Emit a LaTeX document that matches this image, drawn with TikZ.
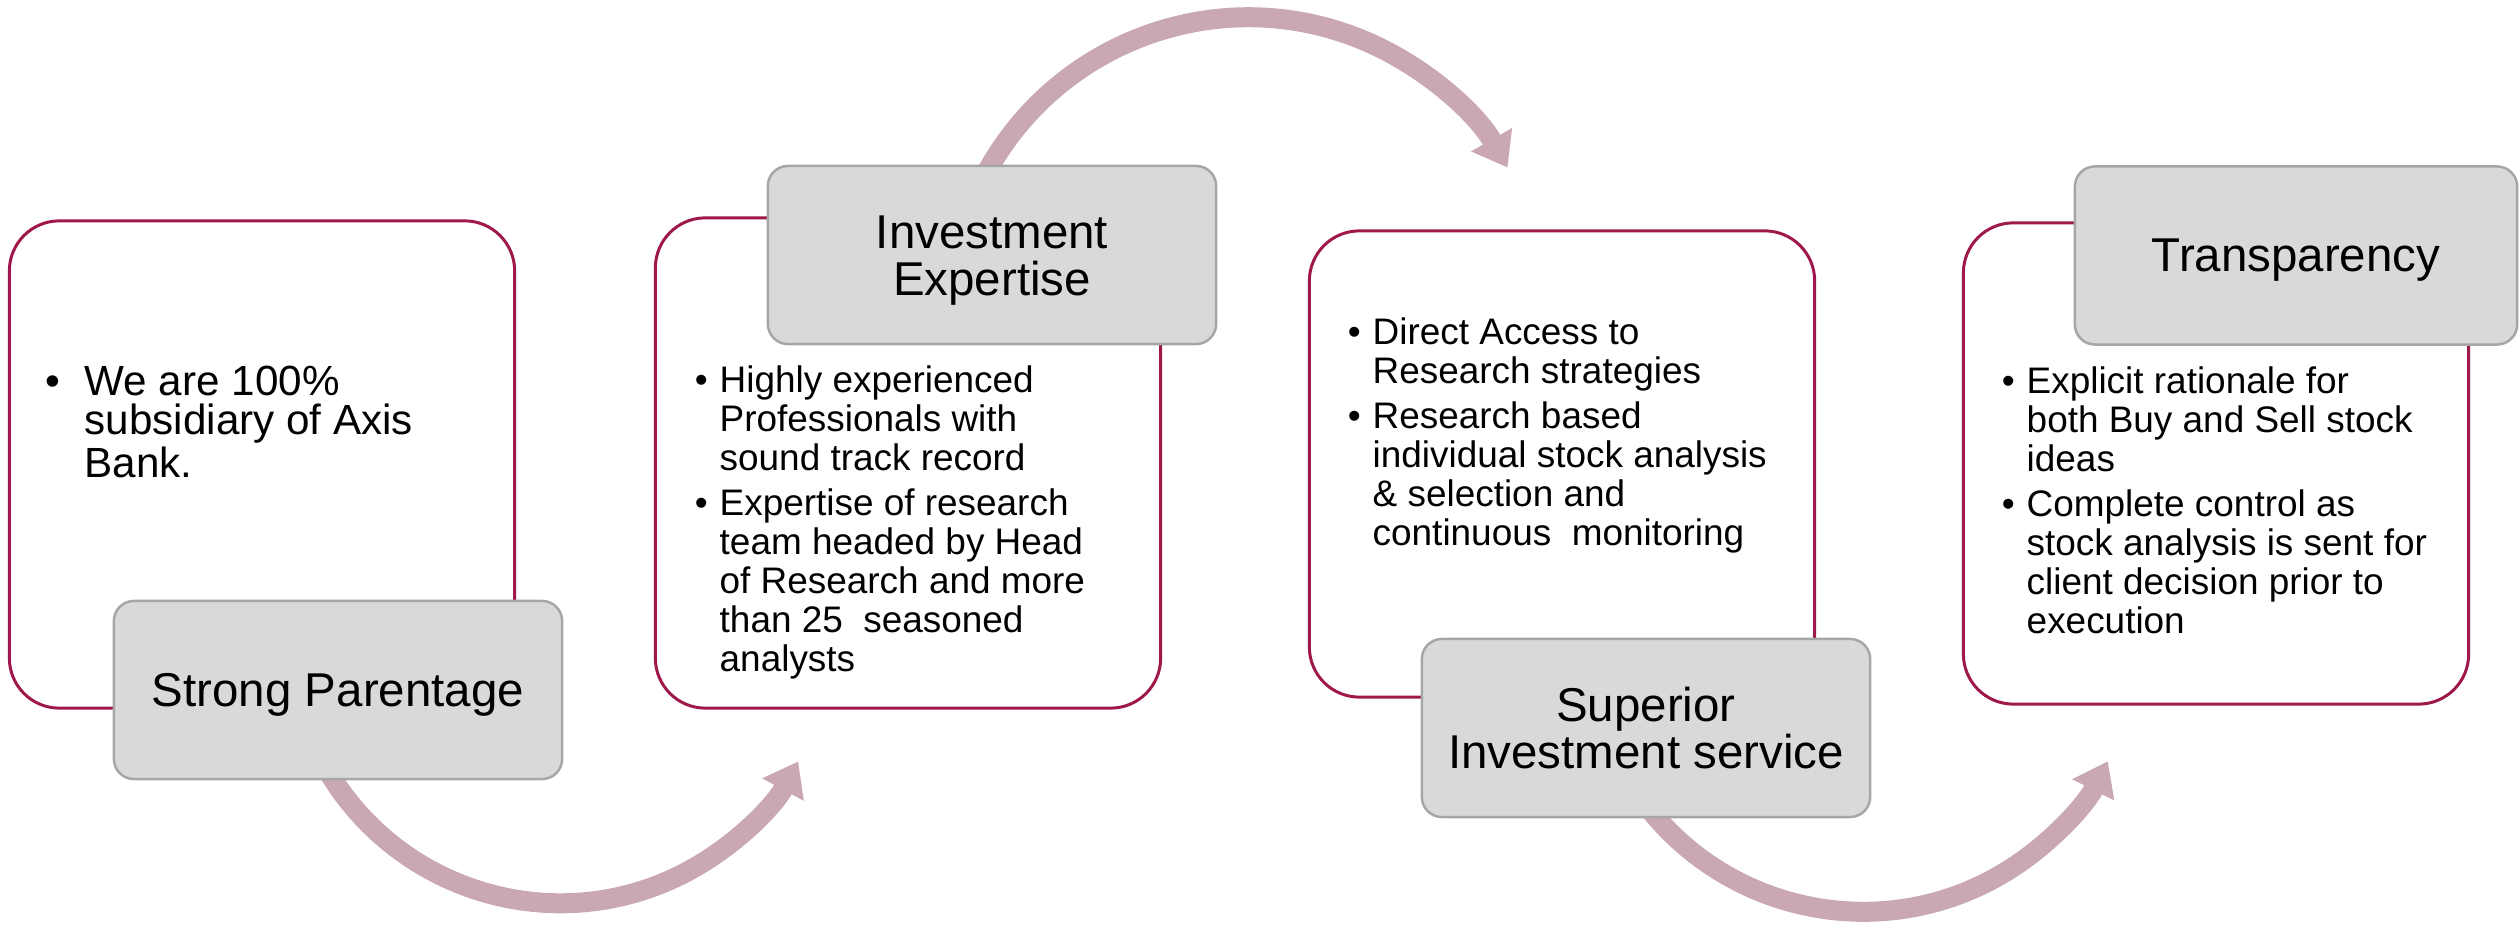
\documentclass[tikz,border=0pt]{standalone}
\usepackage{fontspec}
\setmainfont{Liberation Sans}
\usepackage{xcolor}
\usepackage{tikz}
\usetikzlibrary{shapes,positioning,arrows.meta}
\definecolor{panelred}{RGB}{158,24,76}
\definecolor{flowpink}{RGB}{201,168,178}
\definecolor{tabgray}{RGB}{217,217,217}
\definecolor{tabline}{RGB}{166,166,166}
\tikzset{panel/.style={draw=panelred,line width=0.85pt,rounded corners=0.5cm,fill=white,minimum width=5.05cm,inner sep=0pt}}
\tikzset{tab/.style={draw=tabline,line width=0.7pt,fill=tabgray,rounded corners=0.2cm,minimum width=4.48cm,minimum height=1.78cm,inner sep=0pt,align=center,font=\fontsize{13.5}{13.6}\selectfont}}
\tikzset{body/.style={anchor=north west,inner sep=0pt,align=left,font=\fontsize{10.5}{11.1}\selectfont}}
\tikzset{flow/.style={draw=flowpink,line width=0.2cm,-{Triangle[width=0.45cm,length=0.32cm]}}}
\newcommand{\bul}[1][0.12cm]{\llap{\textbullet\hspace{#1}}}

\begin{document}
\begin{tikzpicture}[x=0.01cm,y=0.01cm]
    \useasboundingbox (0,0) rectangle (2519,-931);

    \node[panel,minimum height=4.87cm] (p1)at (262,-464.5) {};
    \node[panel,minimum height=4.90cm] (p2)at (908,-463) {};
    \node[panel,minimum height=4.66cm] (p3)at (1562,-464) {};
    \node[panel,minimum height=4.81cm] (p4)at (2216,-463.5) {};

    \coordinate (s1)at (326,-768);
    \coordinate (s2)at (980,-185);
    \coordinate (s3)at (1636,-791);
    \draw [flow] (s1) arc[start angle=210,end angle=331.6,radius=270.5];
    \draw [flow] (s2) arc[start angle=154,end angle=29.8,radius=298.6];
    \draw [flow] (s3) arc[start angle=214,end angle=333.2,radius=274];

    \node[tab,text depth=0pt] (t1)at (338,-690) {Strong Parentage};
    \node[tab] (t2)at (992,-255) {\rule{0pt}{12.5pt}Investment\\Expertise};
    \node[tab] (t3)at (1646,-728) {Superior\\Investment service};
    \node[tab,text depth=0pt,minimum width=4.42cm] (t4)at (2296,-255.5) {Transparency};

    \node[body,font=\fontsize{12}{11.1}\selectfont] (b1)at (84,-365) {\bul[0.24cm]We are 100\%\\subsidiary of Axis\\Bank.};
    \node[body] (b2)at (719,-365) {\bul Highly experienced\\Professionals with\\sound track record\\[1.7pt]
        \bul Expertise of research\\team headed by Head\\of Research and more\\than 25\ \ seasoned\\analysts};
    \node[body] (b3)at (1372,-317) {\bul Direct Access to\\Research strategies\\[1.7pt]
        \bul Research based\\individual stock analysis\\\& selection and\\continuous\ \ monitoring};
    \node[body] (b4)at (2026,-366) {\bul Explicit rationale for\\both Buy and Sell stock\\ideas\\[1.7pt]
        \bul Complete control as\\stock analysis is sent for\\client decision prior to\\execution};
\end{tikzpicture}
\end{document}
